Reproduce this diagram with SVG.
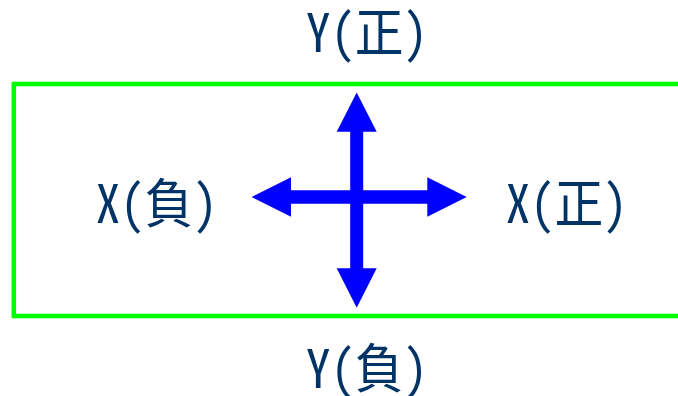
<svg xmlns="http://www.w3.org/2000/svg" width="678" height="396" viewBox="0 0 678 396">
<style>
.lbl{font-family:"Noto Sans Mono CJK JP","Noto Sans CJK JP","Noto Sans CJK SC",monospace;font-size:53px;fill:#003366;text-anchor:middle}
.arr{fill:#0000ff}
</style>
<rect width="678" height="396" fill="#ffffff"/>
<g id="frame"><rect x="13.8" y="84" width="700" height="232" fill="none" stroke="#00ff00" stroke-width="4.5"/></g>
<g id="connectors">
<path class="arr" d="M350.2,131.7 H336.7 L356.7,92.5 L376.7,131.7 H363.2 V190.2 H427.3 V177.2 L466.7,197 L427.3,216.7 V203.7 H363.2 V268.3 H376.7 L356.7,307.7 L336.7,268.3 H350.2 V203.7 H291 V216.7 L251.7,197 L291,177.2 V190.2 H350.2 Z"/>
</g>
<g id="yp"><text class="lbl" x="367" y="52" textLength="122" lengthAdjust="spacingAndGlyphs">Y(正)</text></g>
<g id="yn"><text class="lbl" x="367" y="388.3" textLength="122" lengthAdjust="spacingAndGlyphs">Y(負)</text></g>
<g id="xn"><text class="lbl" x="156.7" y="223.3" textLength="122" lengthAdjust="spacingAndGlyphs">X(負)</text></g>
<g id="xp"><text class="lbl" x="566.7" y="223.3" textLength="122" lengthAdjust="spacingAndGlyphs">X(正)</text></g>
</svg>
